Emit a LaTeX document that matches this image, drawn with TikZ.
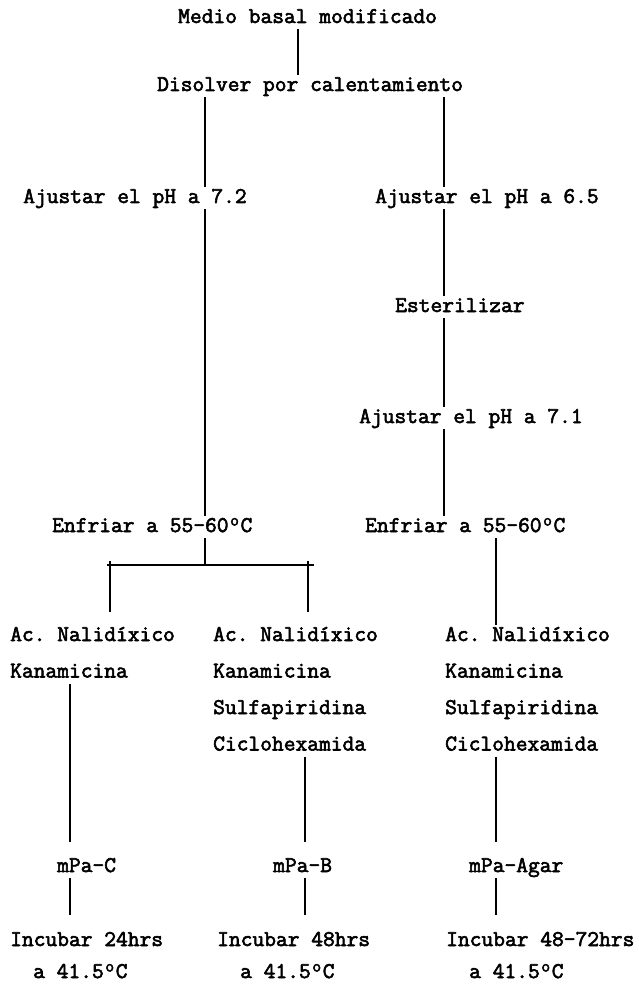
\documentclass[tikz,border=0pt]{standalone}
\usepackage{fontspec}
\setmainfont{Latin Modern Mono}[FakeStretch=1.015,FakeBold=2.6]
\newcommand{\dgo}{\makebox[12pt][c]{\raisebox{6.5pt}{\fontsize{17}{17}\selectfont o}}}
\begin{document}
\frenchspacing
\begin{tikzpicture}[x=1pt,y=-1pt,
  txt/.style={anchor=base west,inner xsep=0pt,inner ysep=3pt,text height=13pt,text depth=3pt,font=\fontsize{22.5}{22.5}\selectfont},
  ln/.style={line width=1.6pt},
  gapa/.style={ln,shorten >=14pt},
  gapb/.style={ln,shorten >=15pt},
  gapc/.style={ln,shorten >=13pt}]
\fill[white] (0,0) rectangle (639,984);
\useasboundingbox (0,0) rectangle (639,984);
% texts
\node[txt] (medio) at (178,23) {Medio basal modificado};
\node[txt] (disol) at (157,91) {Disolver por calentamiento};
\node[txt] (aj72) at (23,203) {Ajustar el pH a 7.2};
\node[txt] (aj65) at (375,203) {Ajustar el pH a 6.5};
\node[txt] (ester) at (395,312) {Esterilizar};
\node[txt] (aj71) at (359,423) {Ajustar el pH a 7.1};
\node[txt] (enfL) at (52,532) {Enfriar a 55-60\dgo C};
\node[txt] (enfR) at (365,532) {Enfriar a 55-60\dgo C};
% lists
\node[txt] (c1a) at (10,641) {Ac. Nalidíxico};
\node[txt] (c1b) at (10,677.5) {Kanamicina};
\node[txt] (c2a) at (213,641) {Ac. Nalidíxico};
\node[txt] (c2b) at (213,677.5) {Kanamicina};
\node[txt] (c2c) at (213,714) {Sulfapiridina};
\node[txt] (c2d) at (213,750.5) {Ciclohexamida};
\node[txt] (c3a) at (445,641) {Ac. Nalidíxico};
\node[txt] (c3b) at (445,677.5) {Kanamicina};
\node[txt] (c3c) at (445,714) {Sulfapiridina};
\node[txt] (c3d) at (445,750.5) {Ciclohexamida};
% media
\node[txt] (mC) at (57,872) {mPa-C};
\node[txt] (mB) at (273,872) {mPa-B};
\node[txt] (mA) at (469,872) {mPa-Agar};
\node[txt] (iC) at (10,946) {Incubar 24hrs};
\node[txt] (iB) at (217,946) {Incubar 48hrs};
\node[txt] (iA) at (446,946) {Incubar 48-72hrs};
\node[txt] (tC) at (33,978) {a 41.5\dgo C};
\node[txt] (tB) at (240,978) {a 41.5\dgo C};
\node[txt] (tA) at (469,978) {a 41.5\dgo C};
% line positions
\coordinate (xm) at (298,0);
\coordinate (xl) at (205,0);
\coordinate (xr) at (444,0);
\coordinate (xr2) at (496,0);
\coordinate (x1) at (70,0);
\coordinate (x2) at (305,0);
\coordinate (xb1) at (110,0);
\coordinate (xb2) at (308,0);
\coordinate (barL) at (107,565);
\coordinate (barR) at (314,565);
\coordinate (barT) at (0,561);
% connectors
\draw[ln] (xm |- medio.south) -- (xm |- disol.north);
\draw[ln] (xl |- disol.south) -- (xl |- aj72.north);
\draw[ln] (xl |- aj72.south) -- (xl |- enfL.north);
\draw[ln] (xr |- disol.south) -- (xr |- aj65.north);
\draw[ln] (xr |- aj65.south) -- (xr |- ester.north);
\draw[ln] (xr |- ester.south) -- (xr |- aj71.north);
\draw[ln] (xr |- aj71.south) -- (xr |- enfR.north);
\draw[ln] (xl |- enfL.south) -- (xl |- barL);
\draw[ln] (barL) -- (barR);
\draw[gapc] (xb1 |- barT) -- (xb1 |- c1a.north);
\draw[gapc] (xb2 |- barT) -- (xb2 |- c2a.north);
\draw[ln] (xr2 |- enfR.south) -- (xr2 |- c3a.north);
\draw[gapa] (x1 |- c1b.south) -- (x1 |- mC.north);
\draw[gapa] (x2 |- c2d.south) -- (x2 |- mB.north);
\draw[gapa] (xr2 |- c3d.south) -- (xr2 |- mA.north);
\draw[gapb] (x1 |- mC.south) -- (x1 |- iC.north);
\draw[gapb] (x2 |- mB.south) -- (x2 |- iB.north);
\draw[gapb] (xr2 |- mA.south) -- (xr2 |- iA.north);
\end{tikzpicture}
\end{document}
